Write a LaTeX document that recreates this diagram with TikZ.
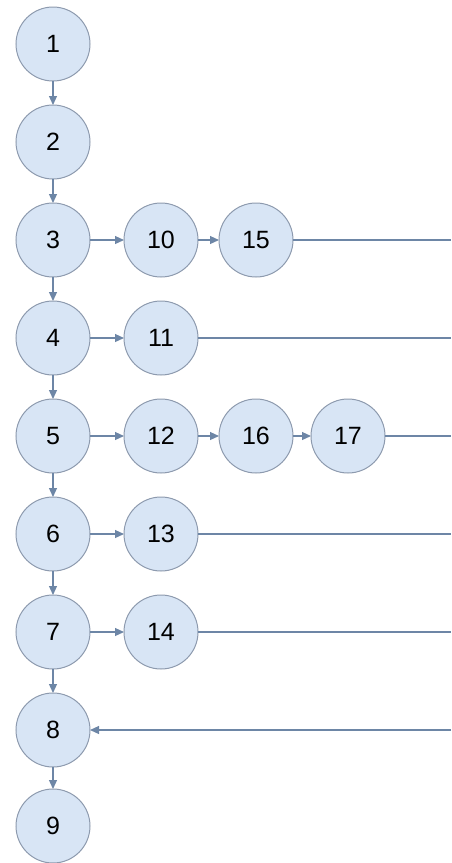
\documentclass[tikz,border=0pt]{standalone}
\usepackage{fontspec}
\setmainfont{Liberation Sans}
\usepackage{tikz}
\usetikzlibrary{arrows.meta,positioning}
\definecolor{flowfill}{HTML}{D8E5F5}
\definecolor{flowedge}{HTML}{8D9AAE}
\definecolor{flowline}{HTML}{6D86A6}

\begin{document}
\begin{tikzpicture}[
  x=1pt, y=1pt,
  font=\fontsize{25}{26}\selectfont,
  node distance=24pt and 34pt,
  state/.style={circle, draw=flowedge, fill=flowfill, line width=1pt,
                minimum size=74pt, inner sep=0pt, outer sep=0pt},
  arrow/.style={-{Triangle[length=9pt,width=8pt]}, line width=1.2pt, draw=flowline},
  exit/.style={line width=1.2pt, draw=flowline}
]
\useasboundingbox (0,0) rectangle (451,-863);
\coordinate (edge) at (451,0);

% main column
\node[state] (n1) at (53,-44) {1};
\node[state, below=of n1] (n2) {2};
\node[state, below=of n2] (n3) {3};
\node[state, below=of n3] (n4) {4};
\node[state, below=of n4] (n5) {5};
\node[state, below=of n5] (n6) {6};
\node[state, below=of n6] (n7) {7};
\node[state, below=of n7] (n8) {8};
\node[state, below=22pt of n8] (n9) {9};

% branches
\node[state, right=of n3] (n10) {10};
\node[state, right=21pt of n10] (n15) {15};
\node[state, right=of n4] (n11) {11};
\node[state, right=of n5] (n12) {12};
\node[state, right=21pt of n12] (n16) {16};
\node[state, right=18pt of n16] (n17) {17};
\node[state, right=of n6] (n13) {13};
\node[state, right=of n7] (n14) {14};

\coordinate (e15) at (n15 -| edge);
\coordinate (e11) at (n11 -| edge);
\coordinate (e17) at (n17 -| edge);
\coordinate (e13) at (n13 -| edge);
\coordinate (e14) at (n14 -| edge);
\coordinate (e8) at (n8 -| edge);

\foreach \a/\b in {1/2,2/3,3/4,4/5,5/6,6/7,7/8,8/9,3/10,10/15,4/11,5/12,12/16,16/17,6/13,7/14}
  \draw[arrow] (n\a) -- (n\b);

\foreach \a in {15,11,17,13,14}
  \draw[exit] (n\a) -- (e\a);
\draw[arrow] (e8) -- (n8);
\end{tikzpicture}
\end{document}
